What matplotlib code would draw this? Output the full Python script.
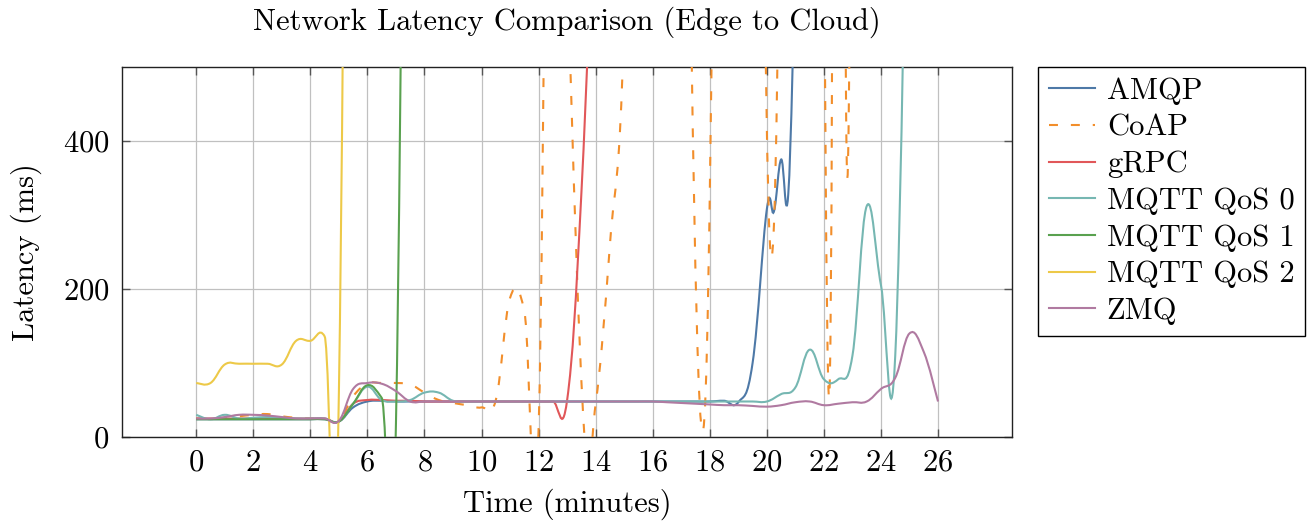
import numpy as np
import matplotlib
matplotlib.use("Agg")
import matplotlib.pyplot as plt
from matplotlib.path import Path
from matplotlib.patches import PathPatch
from matplotlib.lines import Line2D

plt.rcParams['font.family'] = ['cmr10', 'DejaVu Serif']
plt.rcParams['axes.formatter.use_mathtext'] = True
plt.rcParams['mathtext.fontset'] = 'cm'

# ---------------- data ----------------
t_half = [0, 0.5, 1, 1.5, 2, 2.5, 3, 3.5, 4, 4.5, 5, 5.5, 6, 6.5, 7, 7.5, 8, 8.5,
          9, 9.5, 10, 10.5, 11, 11.5, 12, 12.5, 13, 13.5, 14, 14.5, 15, 15.5, 16,
          16.5, 17, 17.5, 18, 18.5, 19, 19.5, 20, 20.5, 21, 21.5, 22, 22.5, 23,
          23.5, 24, 24.5, 25, 25.5, 26]

amqp_t = t_half[:40] + [20, 20.25, 20.5, 20.75, 21]
amqp_v = [24, 24, 24, 24, 24, 24, 24, 24, 24, 24, 21, 40, 48, 49, 48, 48, 48, 48,
          48, 48, 48, 48, 48, 48, 48, 48, 48, 48, 48, 48, 48, 48, 48, 48, 48, 48,
          48, 49, 47, 100, 308, 305, 375, 328, 650]

coap_t = t_half[:24] + [12, 12.5, 13, 13.6, 14, 14.5, 15, 15.5, 16.5, 17, 17.75,
                        18.5, 19.5, 20.25, 21, 21.6, 22.18, 22.5, 22.82, 23.2]
coap_v = [25, 25, 26, 28, 30, 31, 28, 26, 25, 25, 22, 55, 72, 73, 73, 71, 60, 50,
          46, 43, 40, 50, 188, 170, 12, 1500, 650, 5, 45, 260, 560, 1500, 3000,
          1500, 8, 1500, 1500, 288, 3000, 3000, 53, 3000, 350, 3000]

grpc_t = t_half[:29]
grpc_v = [25, 25, 25, 25, 25, 25, 25, 25, 25, 25, 21, 45, 50, 50, 49, 49, 48, 48,
          48, 48, 48, 48, 48, 48, 48, 48, 50, 330, 800]

mqtt0_t = t_half[:51]
mqtt0_v = [30, 24, 30, 25, 26, 27, 26, 25, 25, 25, 21, 45, 68, 50, 48, 50, 60, 60,
           49, 48, 48, 48, 48, 48, 48, 48, 48, 48, 48, 48, 48, 48, 48, 48, 48, 48,
           48, 48, 48, 48, 48, 58, 67, 118, 78, 78, 110, 312, 205, 110, 1000]

mqtt1_t = t_half[:16]
mqtt1_v = [24, 24, 24, 24, 24, 24, 24, 24, 24, 24, 21, 45, 70, 53, 18, 2000]

mqtt2_t = t_half[:12]
mqtt2_v = [73, 73, 98, 99, 99, 99, 98, 130, 130, 136, 60, 2500]

zmq_t = t_half
zmq_v = [25, 25, 27, 30, 30, 29, 27, 25, 25, 25, 22, 65, 73, 72, 62, 48, 48, 48,
         48, 48, 48, 48, 48, 48, 48, 48, 48, 48, 48, 48, 48, 48, 48, 47, 46, 45,
         44, 43, 43, 42, 41, 43, 47, 48, 43, 45, 47, 48, 65, 80, 140, 115, 48]

names = ["AMQP", "CoAP", "gRPC", "MQTT QoS 0", "MQTT QoS 1", "MQTT QoS 2", "ZMQ"]
colors = ["#4e79a7", "#f28e2b", "#e15759", "#76b7b2", "#59a14f", "#edc948", "#b07aa1"]
series = [(amqp_t, amqp_v), (coap_t, coap_v), (grpc_t, grpc_v), (mqtt0_t, mqtt0_v),
          (mqtt1_t, mqtt1_v), (mqtt2_t, mqtt2_v), (zmq_t, zmq_v)]
x_ticks = [0, 2, 4, 6, 8, 10, 12, 14, 16, 18, 20, 22, 24, 26]
y_ticks = [0, 200, 400]


def smooth_path(xs, ys, k=0.2):
    p = np.column_stack([xs, ys]).astype(float)
    n = len(p)
    verts = [p[0]]
    codes = [Path.MOVETO]
    for i in range(n - 1):
        prev = p[i - 1] if i > 0 else p[i]
        nxt = p[i + 2] if i + 2 < n else p[i + 1]
        c1 = p[i] + k * (p[i + 1] - prev)
        c2 = p[i + 1] - k * (nxt - p[i])
        verts += [c1, c2, p[i + 1]]
        codes += [Path.CURVE4] * 3
    return Path(verts, codes)


fig = plt.figure(figsize=(13.11, 5.23), dpi=100)
ax = fig.add_axes([0.0931, 0.1644, 0.679, 0.7075])

lw = 1.5
handles = []
for name, col, (xs, ys) in zip(names, colors, series):
    ls = (0, (4.3, 6.2)) if name == "CoAP" else '-'
    patch = PathPatch(smooth_path(xs, ys), facecolor='none', edgecolor=col,
                      lw=lw, linestyle=ls, zorder=3)
    ax.add_patch(patch)
    handles.append(Line2D([], [], color=col, lw=lw, linestyle=ls))

ax.set_xlim(-2.6, 28.6)
ax.set_ylim(0, 500)
ax.set_xticks(x_ticks)
ax.set_yticks(y_ticks)
ax.grid(True, color='#c0c0c0', lw=0.9, zorder=0)
ax.tick_params(direction='in', length=6, width=1, color='#555555',
               top=True, right=True, labelsize=22, pad=9)
for s in ax.spines.values():
    s.set_color('#222222')
    s.set_linewidth(1.0)

ax.set_title("Network Latency Comparison (Edge to Cloud)", fontsize=22, pad=27)
ax.set_xlabel("Time (minutes)", fontsize=22, labelpad=8)
ax.set_ylabel("Latency (ms)", fontsize=22, labelpad=15)

leg = ax.legend(handles, names, loc='upper left', bbox_to_anchor=(1.029, 1.0),
                fontsize=22, frameon=True, fancybox=False, edgecolor='black',
                framealpha=1, borderpad=0.35, handlelength=1.5, handletextpad=0.4,
                labelspacing=0.3, borderaxespad=0)
leg.get_frame().set_linewidth(1.0)

fig.savefig("out.png", dpi=100)
